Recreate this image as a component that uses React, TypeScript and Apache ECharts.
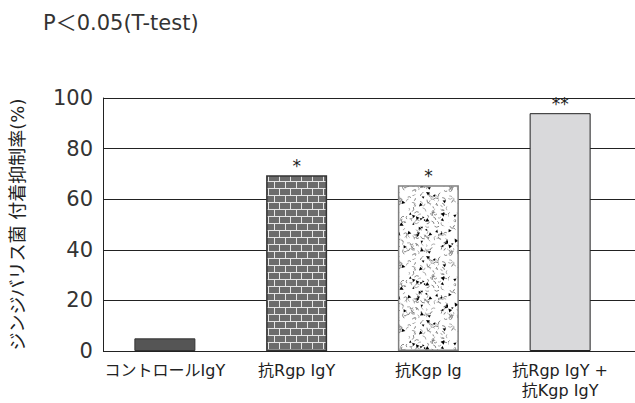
import React, { useEffect, useRef } from "react";
import * as echarts from "echarts";

const title = "P＜0.05(T-test)";
const yAxisName = "ジンジバリス菌 付着抑制率(%)";
const categories = ["コントロールIgY", "抗Rgp IgY", "抗Kgp Ig", "抗Rgp IgY +\n抗Kgp IgY"];
const values = [5, 69.5, 65.5, 94];
const stars = ["", "*", "*", "**"];
const yTicks = { min: 0, max: 100, interval: 20 };

const FONT = "'DejaVu Sans', 'Noto Sans CJK JP', sans-serif";

function brickPattern(): HTMLCanvasElement {
  const c = document.createElement("canvas");
  const w = 22, h = 14;
  c.width = w; c.height = h;
  const g = c.getContext("2d")!;
  g.fillStyle = "#e6e6e6";
  g.fillRect(0, 0, w, h);
  g.fillStyle = "#6c6c6c";
  g.fillRect(0, 0, 10, 6);
  g.fillRect(11, 0, 10, 6);
  g.fillRect(0, 7, 4, 6);
  g.fillRect(5, 7, 10, 6);
  g.fillRect(16, 7, 6, 6);
  return c;
}

function speckPattern(): HTMLCanvasElement {
  const c = document.createElement("canvas");
  const w = 64, h = 64;
  c.width = w; c.height = h;
  const g = c.getContext("2d")!;
  g.fillStyle = "#ffffff";
  g.fillRect(0, 0, w, h);
  let s = 12345;
  const rnd = () => {
    s = (s * 1103515245 + 12345) & 0x7fffffff;
    return s / 0x7fffffff;
  };
  for (let i = 0; i < 170; i++) {
    const x = rnd() * w, y = rnd() * h;
    const a = rnd() * Math.PI * 2;
    const len = 2 + rnd() * 3;
    g.strokeStyle = rnd() > 0.5 ? "#8a8a8a" : "#555";
    g.lineWidth = 0.7;
    g.beginPath();
    g.moveTo(x, y);
    g.quadraticCurveTo(
      x + Math.cos(a + 0.8) * len * 0.6,
      y + Math.sin(a + 0.8) * len * 0.6,
      x + Math.cos(a) * len,
      y + Math.sin(a) * len
    );
    g.stroke();
  }
  g.fillStyle = "#000";
  for (let i = 0; i < 45; i++) {
    const x = rnd() * w, y = rnd() * h;
    const a = rnd() * Math.PI * 2;
    const r = 1.2 + rnd() * 1.3;
    g.beginPath();
    g.moveTo(x + Math.cos(a) * r, y + Math.sin(a) * r);
    g.lineTo(x + Math.cos(a + 2.2) * r, y + Math.sin(a + 2.2) * r);
    g.lineTo(x + Math.cos(a + 4.1) * r, y + Math.sin(a + 4.1) * r);
    g.closePath();
    g.fill();
  }
  return c;
}

export default function App() {
  const ref = useRef<HTMLDivElement>(null);
  useEffect(() => {
    if (!ref.current) return;
    const chart = echarts.init(ref.current, undefined, { renderer: "svg" });
    const styles = [
      { color: "#555555", borderColor: "#333333", borderWidth: 1 },
      { color: { image: brickPattern(), repeat: "repeat" }, borderColor: "#333333", borderWidth: 1.5 },
      { color: { image: speckPattern(), repeat: "repeat" }, borderColor: "#808080", borderWidth: 1.5 },
      { color: "#d9d9db", borderColor: "#222222", borderWidth: 1 },
    ];
    chart.setOption({
      animation: false,
      backgroundColor: "#ffffff",
      title: {
        text: title,
        left: 38,
        top: 7,
        textStyle: { fontFamily: FONT, fontSize: 21, fontWeight: "normal", color: "#333" },
      },
      grid: [
        { left: 88, right: 0, top: 98, bottom: 52 },
        { left: 99, right: 9, top: 98, bottom: 52 },
      ],
      xAxis: [
        { gridIndex: 0, type: "value", min: 0, max: 1, show: false },
        {
          gridIndex: 1,
          type: "category",
          data: categories,
          axisLine: { show: false },
          axisTick: { show: false },
          axisLabel: {
            margin: 9,
            fontFamily: FONT,
            fontSize: 16,
            color: "#222",
            lineHeight: 20,
            interval: 0,
          },
        },
      ],
      yAxis: [
        {
          gridIndex: 0,
          type: "value",
          min: yTicks.min,
          max: yTicks.max,
          interval: yTicks.interval,
          name: yAxisName,
          nameLocation: "middle",
          nameGap: 77,
          nameTextStyle: { fontFamily: FONT, fontSize: 18, color: "#222" },
          axisLine: { show: true, lineStyle: { color: "#222", width: 1 } },
          axisTick: { show: false },
          axisLabel: { margin: 10, fontFamily: FONT, fontSize: 21, color: "#333" },
          splitLine: { show: true, lineStyle: { color: "#222", width: 1 } },
        },
        { gridIndex: 1, type: "value", min: yTicks.min, max: yTicks.max, show: false },
      ],
      series: [
        {
          type: "bar",
          xAxisIndex: 1,
          yAxisIndex: 1,
          barWidth: 61,
          data: values.map((v, i) => ({
            value: v,
            itemStyle: styles[i],
            label: {
              show: !!stars[i],
              position: "top",
              distance: 1,
              formatter: stars[i],
              fontFamily: FONT,
              fontSize: 17,
              color: "#222",
            },
          })),
        },
      ],
    });
    return () => chart.dispose();
  }, []);
  return (
    <div
      ref={ref}
      style={{ position: "absolute", left: 0, top: 0, width: 635, height: 403 }}
    />
  );
}
